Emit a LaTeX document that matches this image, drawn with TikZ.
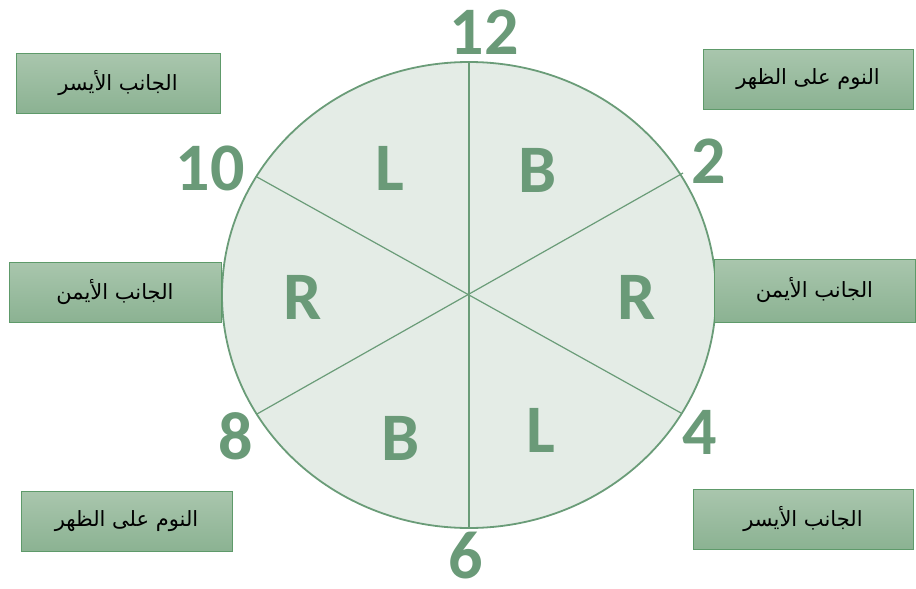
\documentclass[tikz,border=0pt]{standalone}
\usepackage{fontspec}
\setmainfont{Carlito}
\newfontfamily\arabicfont[Script=Arabic]{DejaVu Sans}
\TeXXeTstate=1
\definecolor{gline}{HTML}{6A9C78}
\definecolor{gfill}{HTML}{E4ECE6}
\definecolor{gtext}{HTML}{6A9A78}
\definecolor{btop}{HTML}{A9C6AD}
\definecolor{bbot}{HTML}{8BB292}
\definecolor{bdraw}{HTML}{5E9A6A}
\tikzset{
  lbox/.style={draw=bdraw, line width=1pt, top color=btop, bottom color=bbot, minimum height=60pt, inner sep=0pt, font=\arabicfont\fontsize{21}{24}\selectfont},
  num/.style={text=gtext, font=\bfseries\fontsize{68}{70}\selectfont, inner sep=0pt},
  sect/.style={text=gtext, font=\bfseries\fontsize{68}{70}\selectfont, inner sep=0pt}
}
\begin{document}
\begin{tikzpicture}[x=1pt,y=-1pt]
\useasboundingbox (0,0) rectangle (916,589);
\coordinate (c) at (469,295);
\draw[gline, line width=1.8pt, fill=gfill] (c) ellipse [x radius=247, y radius=233];
\coordinate (p12) at (469,62);
\coordinate (p6) at (469,528);
\coordinate (p10) at (257,177);
\coordinate (p4) at (681,413);
\coordinate (p2) at (683,173);
\coordinate (p8) at (257,414);
\draw[gline, line width=1.2pt] (p12) -- (p6);
\draw[gline, line width=1.2pt] (p10) -- (p4);
\draw[gline, line width=1.2pt] (p2) -- (p8);
\node[num] (n12) at (484,32) {12};
\node[num] (n10) at (210,168) {10};
\node[num] (n2) at (709,161) {2};
\node[num] (n4) at (700,432) {4};
\node[num] (n8) at (236,436) {8};
\node[num] (n6) at (466,556) {6};
\node[sect] (sL1) at (390,168) {L};
\node[sect] (sB1) at (538,170) {B};
\node[sect] (sR1) at (303,297) {R};
\node[sect] (sR2) at (637,297) {R};
\node[sect] (sB2) at (401,438) {B};
\node[sect] (sL2) at (541,430) {L};
\node[lbox, minimum width=204pt] (b1) at (118,83.5) {\beginR الجانب الأيسر\endR};
\node[lbox, minimum width=210pt] (b2) at (808,79) {\beginR النوم على الظهر\endR};
\node[lbox, minimum width=212pt] (b3) at (115,292) {\beginR الجانب الأيمن\endR};
\node[lbox, minimum width=201pt, minimum height=63pt] (b4) at (814.5,290.5) {\beginR الجانب الأيمن\endR};
\node[lbox, minimum width=211pt] (b5) at (126.5,521.5) {\beginR النوم على الظهر\endR};
\node[lbox, minimum width=220pt] (b6) at (803,519.5) {\beginR الجانب الأيسر\endR};
\end{tikzpicture}
\end{document}
